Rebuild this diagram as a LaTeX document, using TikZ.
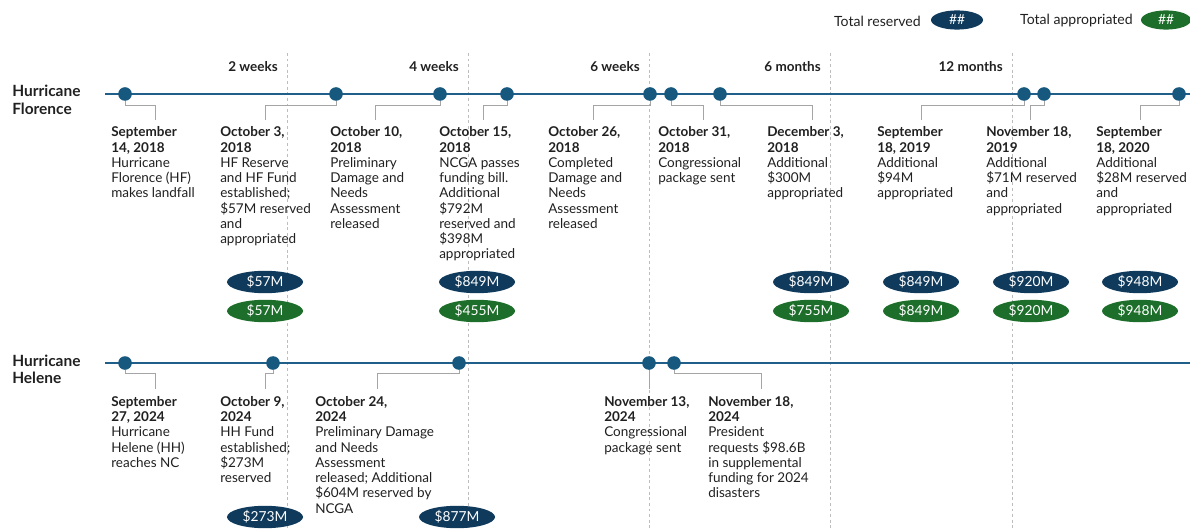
\documentclass[tikz,border=0pt]{standalone}
\usepackage{fontspec}
\setmainfont{Lato}
\usetikzlibrary{shapes.geometric}

\definecolor{lineblue}{HTML}{1F5F8A}
\definecolor{dotblue}{HTML}{17587F}
\definecolor{resblue}{HTML}{0F3A5C}
\definecolor{appgreen}{HTML}{1C6E2A}
\definecolor{conngray}{HTML}{A5A5A5}
\definecolor{dashgray}{HTML}{BDBDBD}
\definecolor{textgray}{HTML}{202020}

\tikzset{
  timeline/.style={lineblue, line width=1.4pt},
  dot/.style={circle, fill=dotblue, minimum size=0.34cm, inner sep=0pt},
  conn/.style={conngray, line width=0.6pt},
  period/.style={dashgray, dash pattern=on 2pt off 2pt, line width=0.5pt},
  periodlabel/.style={anchor=east, inner sep=0pt, text=textgray, font=\fontsize{9.6}{11}\selectfont\bfseries},
  storm/.style={anchor=west, align=left, inner sep=0pt, text=textgray, font=\fontsize{11}{12.5}\selectfont\bfseries},
  event/.style={anchor=north west, align=left, inner sep=0pt, text=textgray, font=\fontsize{9.6}{10.85}\selectfont},
  total/.style={ellipse, text=white, minimum width=1.9cm, minimum height=0.56cm, inner sep=0pt, font=\fontsize{9.8}{11}\selectfont},
  reserved/.style={total, fill=resblue},
  appropriated/.style={total, fill=appgreen},
  key/.style={anchor=east, inner sep=0pt, text=textgray, font=\fontsize{10}{11}\selectfont},
}

\begin{document}
\begin{tikzpicture}[x=0.025cm, y=-0.025cm]
\useasboundingbox (0,0) rectangle (1190,531);

% key
\node[key] (kres) at (921,21) {Total reserved};
\node[reserved, minimum width=1.3cm, minimum height=0.48cm] (kresval) at (957,20) {\#\#};
\node[key] (kapp) at (1133,21) {Total appropriated};
\node[appropriated, minimum width=1.25cm, minimum height=0.48cm] (kappval) at (1166,20) {\#\#};

% time marks
\foreach \x/\lbl in {287/2 weeks, 468/4 weeks, 649/6 weeks, 830/6 months, 1012/12 months} {
  \draw[period] (\x,53) -- (\x,531);
  \node[periodlabel] at (\x-9,67) {\lbl};
}

% Florence
\node[storm] (florence) at (12,100) {Hurricane\\Florence};
\coordinate (fstart) at (105,94);
\coordinate (fend) at (1190,94);
\draw[timeline] (fstart) -- (fend);

\coordinate (cf1) at (155,120);
\coordinate (cf2) at (265,120);
\coordinate (cf3) at (375,120);
\coordinate (cf4) at (483,120);
\coordinate (cf5) at (593,120);
\coordinate (cf6) at (703,120);
\coordinate (cf7) at (812,120);
\coordinate (cf8) at (921,120);
\coordinate (cf9) at (1030,120);
\coordinate (cf10) at (1140,120);

\node[dot] (f1) at (125,94) {};
\node[dot] (f2) at (336,94) {};
\node[dot] (f3) at (440,94) {};
\node[dot] (f4) at (507,94) {};
\node[dot] (f5) at (650,94) {};
\node[dot] (f6) at (671,94) {};
\node[dot] (f7) at (720,94) {};
\node[dot] (f8) at (1024,94) {};
\node[dot] (f9) at (1044,94) {};
\node[dot] (f10) at (1179,94) {};

\foreach \i in {1,...,10}
  \draw[conn] (f\i) -- ++(0,11) -| (cf\i);

\node[event] (tf1) at (111,126.5) {\textbf{September}\\\textbf{14, 2018}\\Hurricane\\Florence (HF)\\makes landfall};
\node[event] (tf2) at (220,126.5) {\textbf{October 3,}\\\textbf{2018}\\HF Reserve\\and HF Fund\\established;\\\$57M reserved\\and\\appropriated};
\node[event] (tf3) at (330,126.5) {\textbf{October 10,}\\\textbf{2018}\\Preliminary\\Damage and\\Needs\\Assessment\\released};
\node[event] (tf4) at (439,126.5) {\textbf{October 15,}\\\textbf{2018}\\NCGA passes\\funding bill.\\Additional\\\$792M\\reserved and\\\$398M\\appropriated};
\node[event] (tf5) at (548,126.5) {\textbf{October 26,}\\\textbf{2018}\\Completed\\Damage and\\Needs\\Assessment\\released};
\node[event] (tf6) at (658,126.5) {\textbf{October 31,}\\\textbf{2018}\\Congressional\\package sent};
\node[event] (tf7) at (767,126.5) {\textbf{December 3,}\\\textbf{2018}\\Additional\\\$300M\\appropriated};
\node[event] (tf8) at (877,126.5) {\textbf{September}\\\textbf{18, 2019}\\Additional\\\$94M\\appropriated};
\node[event] (tf9) at (986,126.5) {\textbf{November 18,}\\\textbf{2019}\\Additional\\\$71M reserved\\and\\appropriated};
\node[event] (tf10) at (1096,126.5) {\textbf{September}\\\textbf{18, 2020}\\Additional\\\$28M reserved\\and\\appropriated};

\node[reserved] (fr1) at (265,282) {\$57M};
\node[appropriated] (fa1) at (265,311) {\$57M};
\node[reserved] (fr2) at (477,282) {\$849M};
\node[appropriated] (fa2) at (477,311) {\$455M};
\node[reserved] (fr3) at (811,282) {\$849M};
\node[appropriated] (fa3) at (811,311) {\$755M};
\node[reserved] (fr4) at (921,282) {\$849M};
\node[appropriated] (fa4) at (921,311) {\$849M};
\node[reserved] (fr5) at (1031,282) {\$920M};
\node[appropriated] (fa5) at (1031,311) {\$920M};
\node[reserved] (fr6) at (1140,282) {\$948M};
\node[appropriated] (fa6) at (1140,311) {\$948M};

% Helene
\node[storm] (helene) at (12,369.5) {Hurricane\\Helene};
\coordinate (hstart) at (105,363);
\coordinate (hend) at (1190,363);
\draw[timeline] (hstart) -- (hend);

\coordinate (ch1) at (155,389);
\coordinate (ch2) at (265,389);
\coordinate (ch3) at (377,389);
\coordinate (ch4) at (649,389);
\coordinate (ch5) at (761,389);

\node[dot] (h1) at (125,363) {};
\node[dot] (h2) at (273,363) {};
\node[dot] (h3) at (459,363) {};
\node[dot] (h4) at (649,363) {};
\node[dot] (h5) at (674,363) {};

\foreach \i in {1,2,3,5}
  \draw[conn] (h\i) -- ++(0,10) -| (ch\i);
\draw[conn] (h4) -- (ch4);

\node[event] (th1) at (111,396) {\textbf{September}\\\textbf{27, 2024}\\Hurricane\\Helene (HH)\\reaches NC};
\node[event] (th2) at (220,396) {\textbf{October 9,}\\\textbf{2024}\\HH Fund\\established;\\\$273M\\reserved};
\node[event] (th3) at (315,396) {\textbf{October 24,}\\\textbf{2024}\\Preliminary Damage\\and Needs\\Assessment\\released; Additional\\\$604M reserved by\\NCGA};
\node[event] (th4) at (604,396) {\textbf{November 13,}\\\textbf{2024}\\Congressional\\package sent};
\node[event] (th5) at (708,396) {\textbf{November 18,}\\\textbf{2024}\\President\\requests \$98.6B\\in supplemental\\funding for 2024\\disasters};

\node[reserved] (hr1) at (265,517) {\$273M};
\node[reserved] (hr2) at (457,517) {\$877M};
\end{tikzpicture}
\end{document}
